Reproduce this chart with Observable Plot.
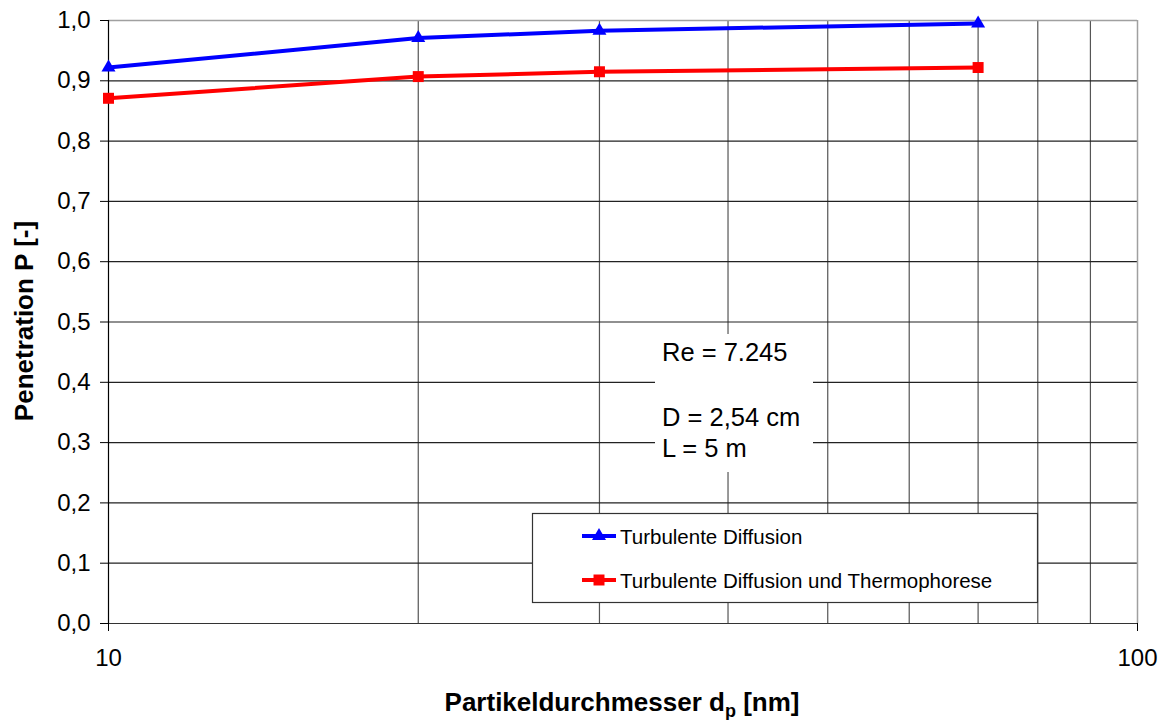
<!DOCTYPE html>
<html>
<head>
<meta charset="utf-8">
<script src="https://cdn.jsdelivr.net/npm/d3@7"></script>
<script src="https://cdn.jsdelivr.net/npm/@observablehq/plot@0.6"></script>
<style>
  html, body { margin: 0; padding: 0; background: #fff; }
  #chart { position: relative; width: 1165px; height: 720px; }
</style>
</head>
<body>
<div id="chart"></div>
<script>
// Particle diameter (nm) and penetration values for the two deposition models
const diameters = [10, 20, 30, 70];
const turbulentDiffusion = [0.922, 0.971, 0.983, 0.995];
const diffusionThermophoresis = [0.871, 0.907, 0.915, 0.922];

const seriesNames = ["Turbulente Diffusion", "Turbulente Diffusion und Thermophorese"];
const seriesColors = ["#0000ff", "#ff0000"];
const seriesSymbols = ["triangle", "square"];

const yTicks = [0, 0.1, 0.2, 0.3, 0.4, 0.5, 0.6, 0.7, 0.8, 0.9, 1.0];
const xTicks = [10, 100];
const xMinorGrid = [20, 30, 40, 50, 60, 70, 80, 90];

const annotationLines = ["Re = 7.245", "", "D = 2,54 cm", "L = 5 m"];

const rows = [];
diameters.forEach((d, i) => {
  rows.push({d, p: turbulentDiffusion[i], s: seriesNames[0]});
  rows.push({d, p: diffusionThermophoresis[i], s: seriesNames[1]});
});

const font = "'Liberation Sans', Arial, Helvetica, sans-serif";
const fmt = v => v.toFixed(1).replace(".", ",");
// marker radius per symbol so triangle and square look the same size
const markerR = {triangle: 5.2, square: 6.2};

const chart = Plot.plot({
  width: 1165,
  height: 720,
  marginTop: 20,
  marginRight: 28,
  marginBottom: 97,
  marginLeft: 108,
  style: {fontFamily: font, fontSize: "24px", color: "#000", background: "#fff"},
  x: {type: "log", domain: [10, 100]},
  y: {domain: [0, 1]},
  color: {domain: seriesNames, range: seriesColors},
  symbol: {domain: seriesNames, range: seriesSymbols},
  marks: [
    Plot.ruleX(xMinorGrid, {stroke: "#555", strokeWidth: 1.2}),
    Plot.ruleY(yTicks.slice(1, -1), {stroke: "#222", strokeWidth: 1.2}),
    Plot.ruleY([1], {stroke: "#a0a0a0", strokeWidth: 1.5}),
    Plot.ruleX([100], {stroke: "#a0a0a0", strokeWidth: 1.5}),
    Plot.ruleY([0], {stroke: "#333", strokeWidth: 1.2}),
    Plot.ruleX([10], {stroke: "#000", strokeWidth: 1.2}),
    Plot.axisY({ticks: yTicks, tickFormat: fmt, tickSize: 8, tickPadding: 10, label: null}),
    Plot.axisX({ticks: xTicks, tickFormat: d => String(d), tickSize: 8, tickPadding: 17, label: null}),
    Plot.line(rows, {x: "d", y: "p", z: "s", stroke: "s", strokeWidth: 4}),
    ...seriesNames.map((name, i) => Plot.dot(rows.filter(r => r.s === name), {
      x: "d", y: "p", fill: "s", symbol: "s", r: markerR[seriesSymbols[i]], stroke: "none"
    }))
  ]
});

document.getElementById("chart").appendChild(chart);

const svg = d3.select(chart);

// Axis titles
svg.append("text")
  .attr("x", 622).attr("y", 711)
  .attr("text-anchor", "middle")
  .attr("font-family", font).attr("font-size", 26).attr("font-weight", "bold")
  .call(t => {
    t.append("tspan").text("Partikeldurchmesser d");
    t.append("tspan").attr("font-size", 18).attr("dy", 6).text("p");
    t.append("tspan").attr("dy", -6).text(" [nm]");
  });

svg.append("text")
  .attr("transform", "translate(33,321) rotate(-90)")
  .attr("text-anchor", "middle")
  .attr("font-family", font).attr("font-size", 26).attr("font-weight", "bold")
  .text("Penetration P [-]");

// Parameter annotation on a white patch
const ann = svg.append("g");
ann.append("rect").attr("x", 655).attr("y", 334).attr("width", 158).attr("height", 138).attr("fill", "#fff");
const annY = [361, 393, 426, 457];
annotationLines.forEach((s, i) => {
  if (!s) return;
  ann.append("text").attr("x", 662).attr("y", annY[i]).attr("text-anchor", "start")
    .attr("font-family", font).attr("font-size", 25.5).text(s);
});

// Legend box
const leg = svg.append("g");
leg.append("rect").attr("x", 532.5).attr("y", 513.5).attr("width", 505).attr("height", 89)
  .attr("fill", "#fff").attr("stroke", "#333").attr("stroke-width", 1.2);
const legY = [536, 580];
seriesNames.forEach((name, i) => {
  const g = leg.append("g");
  g.append("line").attr("x1", 582).attr("x2", 616).attr("y1", legY[i]).attr("y2", legY[i])
    .attr("stroke", seriesColors[i]).attr("stroke-width", 4);
  const sym = seriesSymbols[i] === "triangle" ? d3.symbolTriangle : d3.symbolSquare;
  const r = markerR[seriesSymbols[i]];
  g.append("path").attr("d", d3.symbol(sym, Math.PI * r * r)())
    .attr("transform", `translate(599,${legY[i]})`).attr("fill", seriesColors[i]);
  g.append("text").attr("x", 620).attr("y", legY[i] + 8).attr("text-anchor", "start")
    .attr("font-family", font).attr("font-size", 20.5).text(name);
});
</script>
</body>
</html>
